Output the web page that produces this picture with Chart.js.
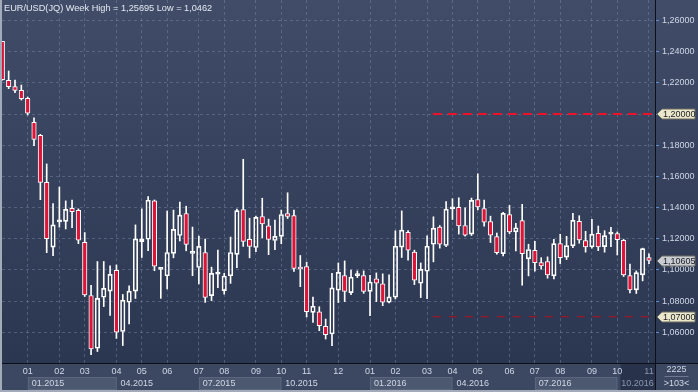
<!DOCTYPE html>
<html>
<head>
<meta charset="utf-8">
<title>EUR/USD weekly</title>
<script src="https://cdn.jsdelivr.net/npm/chart.js@4.4.1/dist/chart.umd.min.js"></script>
<style>
  html, body { margin: 0; padding: 0; background: #2e3954; }
  #wrap { width: 698px; height: 392px; }
</style>
</head>
<body>
<div id="wrap"><canvas id="myChart" width="698" height="392"></canvas></div>
<script>
// EUR/USD (JQ) weekly candles, mid Dec 2014 - Nov 2016
var opens = [
  1.2466, 1.2216, 1.2176, 1.2152, 1.2101, 1.1947, 1.1864, 1.1562, 1.1146, 1.1308,
  1.1312, 1.1396, 1.1383, 1.1178, 1.0836, 1.0498, 1.0825, 1.0864, 1.0998, 1.0605,
  1.0793, 1.0864, 1.1182, 1.1197, 1.1443, 1.1004, 1.0963, 1.1106, 1.1221, 1.1362,
  1.1106, 1.1016, 1.1112, 1.0835, 1.0973, 1.0867, 1.0963, 1.1100, 1.1388, 1.1196,
  1.1144, 1.1343, 1.1283, 1.1189, 1.1215, 1.1362, 1.1349, 1.1016, 1.1022, 1.0728,
  1.0732, 1.0638, 1.0589, 1.0870, 1.0964, 1.0855, 1.0964, 1.0964, 1.0863, 1.0943,
  1.0911, 1.0793, 1.0825, 1.1146, 1.1242, 1.1114, 1.0915, 1.0992, 1.1165, 1.1275,
  1.1157, 1.1392, 1.1401, 1.1285, 1.1230, 1.1452, 1.1394, 1.1311, 1.1214, 1.1105,
  1.1355, 1.1244, 1.1316, 1.1071, 1.1126, 1.1047, 1.1054, 1.0962, 1.1169, 1.1082,
  1.1154, 1.1312, 1.1188, 1.1148, 1.1235, 1.1150, 1.1230, 1.1233, 1.1190, 1.0964,
  1.0872, 1.0968, 1.1079
];
var highs = [
  1.2466, 1.2276, 1.2218, 1.2186, 1.2109, 1.1975, 1.1870, 1.1680, 1.1426, 1.1532,
  1.1443, 1.1449, 1.1392, 1.1240, 1.0902, 1.1054, 1.1054, 1.1026, 1.1032, 1.0843,
  1.0898, 1.1289, 1.1392, 1.1471, 1.1449, 1.1009, 1.1377, 1.1384, 1.1435, 1.1409,
  1.1275, 1.1217, 1.1198, 1.1018, 1.1127, 1.0978, 1.1211, 1.1390, 1.1710, 1.1332,
  1.1345, 1.1460, 1.1326, 1.1320, 1.1384, 1.1495, 1.1384, 1.1093, 1.1050, 1.0826,
  1.0764, 1.0685, 1.0979, 1.1045, 1.1058, 1.1000, 1.0994, 1.0994, 1.0966, 1.0981,
  1.0975, 1.0968, 1.1251, 1.1379, 1.1253, 1.1127, 1.1045, 1.1219, 1.1341, 1.1285,
  1.1439, 1.1457, 1.1463, 1.1399, 1.1461, 1.1617, 1.1448, 1.1345, 1.1237, 1.1370,
  1.1414, 1.1299, 1.1421, 1.1165, 1.1184, 1.1079, 1.1084, 1.1197, 1.1229, 1.1216,
  1.1363, 1.1348, 1.1248, 1.1325, 1.1282, 1.1252, 1.1274, 1.1244, 1.1197, 1.1037,
  1.0994, 1.1140, 1.1103
];
var lows = [
  1.2218, 1.2163, 1.2137, 1.2090, 1.1994, 1.1797, 1.1451, 1.1111, 1.1092, 1.1275,
  1.1263, 1.1272, 1.1169, 1.0830, 1.0456, 1.0477, 1.0765, 1.0708, 1.0561, 1.0515,
  1.0654, 1.0817, 1.1080, 1.1124, 1.0995, 1.0818, 1.0878, 1.1078, 1.1187, 1.1123,
  1.0963, 1.0910, 1.0792, 1.0803, 1.0886, 1.0845, 1.0914, 1.1014, 1.1151, 1.1078,
  1.1117, 1.1206, 1.1098, 1.1130, 1.1168, 1.1330, 1.0991, 1.0893, 1.0698, 1.0664,
  1.0610, 1.0557, 1.0514, 1.0791, 1.0797, 1.0842, 1.0951, 1.0850, 1.0707, 1.0797,
  1.0771, 1.0789, 1.0814, 1.1080, 1.1063, 1.0906, 1.0823, 1.0816, 1.1052, 1.1140,
  1.1150, 1.1324, 1.1230, 1.1217, 1.1221, 1.1386, 1.1281, 1.1176, 1.1101, 1.1090,
  1.1233, 1.1122, 1.0902, 1.0962, 1.0992, 1.1005, 1.0947, 1.0943, 1.1041, 1.1067,
  1.1143, 1.1171, 1.1114, 1.1139, 1.1124, 1.1114, 1.1150, 1.1096, 1.0958, 1.0853,
  1.0849, 1.0930, 1.1041
];
var closes = [
  1.2220, 1.2176, 1.2152, 1.2099, 1.2005, 1.1838, 1.1562, 1.1201, 1.1289, 1.1314,
  1.1389, 1.1374, 1.1191, 1.0840, 1.0494, 1.0818, 1.0882, 1.0972, 1.0601, 1.0806,
  1.0864, 1.1199, 1.1199, 1.1447, 1.1024, 1.1008, 1.1112, 1.1260, 1.1352, 1.1164,
  1.1112, 1.1151, 1.0824, 1.0978, 1.0977, 1.0961, 1.1112, 1.1381, 1.1183, 1.1151,
  1.1337, 1.1296, 1.1196, 1.1215, 1.1356, 1.1343, 1.1010, 1.1006, 1.0732, 1.0767,
  1.0643, 1.0585, 1.0885, 1.0985, 1.0863, 1.0953, 1.0968, 1.0863, 1.0923, 1.0915,
  1.0793, 1.0827, 1.1152, 1.1255, 1.1127, 1.0934, 1.1004, 1.1152, 1.1268, 1.1165,
  1.1390, 1.1395, 1.1283, 1.1223, 1.1446, 1.1405, 1.1307, 1.1223, 1.1111, 1.1363,
  1.1244, 1.1271, 1.1105, 1.1131, 1.1047, 1.1026, 1.0968, 1.1169, 1.1079, 1.1156,
  1.1318, 1.1192, 1.1148, 1.1229, 1.1148, 1.1220, 1.1233, 1.1195, 1.0968, 1.0872,
  1.0983, 1.1137, 1.10605
];

// time axis: bar index of the first week of each month, and quarter captions
var monthTicks = [4, 9, 13, 18, 22, 26, 31, 35, 40, 44, 48, 53, 58, 62, 67, 71, 75, 80, 84, 88, 93, 97, 102];
var monthLabels = ['01', '02', '03', '04', '05', '06', '07', '08', '09', '10', '11', '12',
                   '01', '02', '03', '04', '05', '06', '07', '08', '09', '10', '11'];
var quarterTicks = [4, 18, 31, 44, 58, 71, 84, 97];
var quarterLabels = ['01.2015', '04.2015', '07.2015', '10.2015', '01.2016', '04.2016', '07.2016', '10.2016'];

var priceTicks = [1.06, 1.08, 1.10, 1.12, 1.14, 1.16, 1.18, 1.20, 1.22, 1.24, 1.26];

// horizontal level lines drawn on the chart (value, first bar index)
var levelValues = [1.20, 1.07];
var levelStart = [67.9, 67.9];

var titleText = 'EUR/USD(JQ) Week High = 1,25695 Low = 1,0462';
var barTotal = '2225';
var barsShown = '>103<';

var X_MIN = -0.05, X_MAX = 102.95;
var FONT = '"Liberation Sans", Arial, sans-serif';
var RED = '#dc1538';
var TEXT = '#cfd8e8';
var GRID = 'rgba(125,140,170,0.45)';

function fmt(v) {
    return v.toFixed(5).replace('.', ',');
}

var bodyData = opens.map(function(o, i) { return {x: i, y: [o, closes[i]]}; });
var upperWick = opens.map(function(o, i) { return {x: i, y: [Math.max(o, closes[i]), highs[i]]}; });
var lowerWick = opens.map(function(o, i) { return {x: i, y: [lows[i], Math.min(o, closes[i])]}; });
var bodyColors = opens.map(function(o, i) { return closes[i] < o ? RED : 'rgba(0,0,0,0)'; });

// backgrounds, axis strips, quarter boxes
var panelPlugin = {
    id: 'panels',
    beforeDraw: function(chart) {
        var ctx = chart.ctx;
        var area = chart.chartArea;
        var x = chart.scales.x;
        ctx.save();
        var g = ctx.createLinearGradient(0, 0, 0, area.bottom);
        g.addColorStop(0, '#414d68');
        g.addColorStop(1, '#2b3651');
        ctx.fillStyle = g;
        ctx.fillRect(0, 0, chart.width, area.bottom);
        ctx.fillStyle = '#3c4861';
        ctx.fillRect(0, area.bottom, chart.width, chart.height - area.bottom);

        // alternate quarter boxes
        for (var i = 0; i < quarterTicks.length; i++) {
            var x0 = x.getPixelForValue(quarterTicks[i]);
            var x1 = i + 1 < quarterTicks.length ? x.getPixelForValue(quarterTicks[i + 1]) : area.right;
            if (i % 2 == 0 && i < quarterTicks.length - 1) {
                ctx.fillStyle = '#4c586f';
                ctx.fillRect(x0, area.bottom + 14, x1 - x0, 13);
                ctx.strokeStyle = '#5a667d';
                ctx.lineWidth = 1;
                ctx.strokeRect(Math.round(x0) + 0.5, area.bottom + 14.5, x1 - x0 - 1, 12);
            }
        }
        // current period strip
        var last = quarterTicks[quarterTicks.length - 1];
        var hx = x.getPixelForValue(last + 0.5);
        ctx.fillStyle = '#29324b';
        ctx.fillRect(hx, area.bottom + 1, area.right - hx, chart.height - area.bottom - 3);
        ctx.restore();
    },
    afterDraw: function(chart) {
        var ctx = chart.ctx;
        var area = chart.chartArea;
        var x = chart.scales.x;
        var y = chart.scales.y;
        ctx.save();

        // frame lines
        ctx.fillStyle = '#0b0f18';
        ctx.fillRect(area.right, 0, 1, chart.height);
        ctx.fillRect(0, area.bottom, chart.width, 1);
        ctx.fillStyle = '#a3abbb';
        ctx.fillRect(0, 0, 2, chart.height);
        ctx.fillRect(0, chart.height - 2, chart.width, 2);

        // title
        ctx.font = '9.2px ' + FONT;
        ctx.fillStyle = '#e4e9f2';
        ctx.textBaseline = 'middle';
        ctx.textAlign = 'left';
        ctx.fillText(titleText, 4, 8);

        // quarter captions
        ctx.font = '9px ' + FONT;
        for (var i = 0; i < quarterTicks.length; i++) {
            ctx.fillStyle = i == quarterTicks.length - 1 ? '#8c97ab' : TEXT;
            ctx.fillText(quarterLabels[i], x.getPixelForValue(quarterTicks[i]) + 4, area.bottom + 21);
        }

        // bar count cell
        var cx = (area.right + chart.width) / 2;
        ctx.textAlign = 'center';
        ctx.fillStyle = TEXT;
        ctx.fillText(barTotal, cx, area.bottom + 7);
        ctx.fillText(barsShown, cx, area.bottom + 21);
        ctx.fillStyle = '#6c7890';
        ctx.fillRect(cx - 12, area.bottom + 13, 24, 1);

        // price flags on the right axis
        function flag(value, fill) {
            var py = Math.round(y.getPixelForValue(value));
            var l = area.right + 2, r = chart.width - 3;
            ctx.beginPath();
            ctx.moveTo(l, py);
            ctx.lineTo(l + 5, py - 5);
            ctx.lineTo(r, py - 5);
            ctx.lineTo(r, py + 5);
            ctx.lineTo(l + 5, py + 5);
            ctx.closePath();
            ctx.fillStyle = fill;
            ctx.fill();
            ctx.strokeStyle = '#6b6b60';
            ctx.lineWidth = 1;
            ctx.stroke();
            ctx.fillStyle = '#1b1d22';
            ctx.textAlign = 'left';
            ctx.fillText(fmt(value), l + 6, py + 0.5);
        }
        flag(levelValues[0], '#ebe7cb');
        flag(levelValues[1], '#ebe7cb');
        flag(closes[closes.length - 1], '#c9cdd4');
        ctx.restore();
    }
};

var ctx = document.getElementById('myChart').getContext('2d');
var myChart = new Chart(ctx, {
    type: 'bar',
    data: {
        datasets: [
            {
                type: 'line',
                data: [{x: levelStart[0], y: levelValues[0]}, {x: X_MAX, y: levelValues[0]}],
                borderColor: '#ee1128',
                borderWidth: 2,
                borderDash: [9, 6],
                pointRadius: 0,
                order: 0
            },
            {
                type: 'line',
                data: [{x: levelStart[1], y: levelValues[1]}, {x: X_MAX, y: levelValues[1]}],
                borderColor: '#b4101f',
                borderWidth: 1,
                borderDash: [8, 8],
                pointRadius: 0,
                order: 0
            },
            {
                data: bodyData,
                backgroundColor: bodyColors,
                borderColor: '#ffffff',
                borderWidth: 1,
                borderSkipped: false,
                barThickness: 4.5,
                minBarLength: 2,
                grouped: false,
                order: 1
            },
            {
                data: upperWick,
                backgroundColor: '#ffffff',
                barThickness: 1,
                grouped: false,
                order: 2
            },
            {
                data: lowerWick,
                backgroundColor: '#ffffff',
                barThickness: 1,
                grouped: false,
                order: 2
            }
        ]
    },
    options: {
        responsive: false,
        animation: false,
        events: [],
        layout: { padding: { left: 2, top: 0, right: 0, bottom: 0 } },
        plugins: { legend: { display: false }, tooltip: { enabled: false } },
        scales: {
            x: {
                type: 'linear',
                offset: false,
                min: X_MIN,
                max: X_MAX,
                afterBuildTicks: function(scale) {
                    scale.ticks = monthTicks.map(function(v) { return {value: v}; });
                },
                afterFit: function(scale) {
                    scale.height = 29;
                    scale.paddingLeft = 0;
                    scale.paddingRight = 0;
                },
                ticks: {
                    autoSkip: false,
                    maxRotation: 0,
                    padding: 3,
                    font: { family: FONT, size: 9 },
                    color: function(c) { return c.index == monthTicks.length - 1 ? '#8c97ab' : TEXT; },
                    callback: function(value, index) { return monthLabels[index]; }
                },
                grid: { color: GRID, drawTicks: false, offset: false },
                border: { display: false, dash: [3, 3] }
            },
            y: {
                position: 'right',
                min: 1.04032,
                max: 1.27316,
                afterBuildTicks: function(scale) {
                    scale.ticks = priceTicks.map(function(v) { return {value: v}; });
                },
                afterFit: function(scale) {
                    scale.width = 43;
                    scale.paddingTop = 0;
                    scale.paddingBottom = 0;
                },
                ticks: {
                    padding: 3,
                    font: { family: FONT, size: 9 },
                    color: TEXT,
                    callback: function(value) { return fmt(value); }
                },
                grid: { color: GRID, tickColor: '#5f8ed0', tickLength: 4, tickBorderDash: [] },
                border: { display: false, dash: [3, 3] }
            }
        }
    },
    plugins: [panelPlugin]
});
</script>
</body>
</html>
